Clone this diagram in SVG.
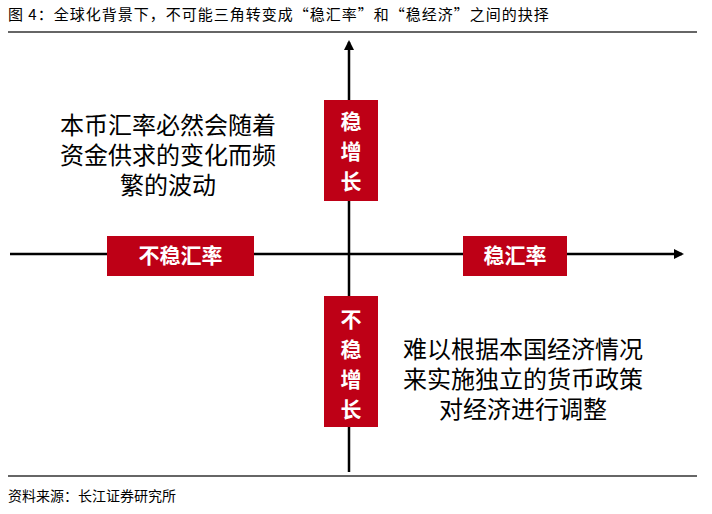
<svg xmlns="http://www.w3.org/2000/svg" width="712" height="514" viewBox="0 0 712 514">
<style>
.t{font-family:"Liberation Sans","Noto Sans CJK SC",sans-serif;}
.c{font-family:"Noto Sans CJK SC","Liberation Sans",sans-serif;}
.cap{font-size:15px;fill:#000;letter-spacing:1px;}
.src{font-size:14px;fill:#000;}
.body{font-size:24px;fill:#000;text-anchor:middle;}
.box{fill:#BE0016;}
.bt{font-size:21px;font-weight:bold;fill:#fff;text-anchor:middle;}
.ax{stroke:#000;stroke-width:2.5;fill:none;}
.rule{stroke:#666;stroke-width:2;}
</style>
<defs>
<marker id="ah" markerWidth="10" markerHeight="10" refX="8" refY="5" orient="auto" markerUnits="userSpaceOnUse">
<path d="M0,0 L10,5 L0,10 Z" fill="#000"/>
</marker>
</defs>
<text class="c cap" x="8" y="20">图 4：全球化背景下，不可能三角转变成“稳汇率”和“稳经济”之间的抉择</text>
<line class="rule" x1="8" y1="32" x2="697" y2="32"/>
<g id="connectors">
<line class="ax" x1="349" y1="472" x2="349" y2="42" marker-end="url(#ah)"/>
<line class="ax" x1="10" y1="254" x2="682" y2="254" marker-end="url(#ah)"/>
</g>
<g id="n-wenzengzhang">
<rect class="box" x="324" y="100" width="54" height="101"/>
<text class="t bt" x="351" y="129">稳</text>
<text class="t bt" x="351" y="159">增</text>
<text class="t bt" x="351" y="189">长</text>
</g>
<g id="n-buwenhuilv">
<rect class="box" x="107" y="236" width="147" height="40"/>
<text class="t bt" x="180.5" y="263">不稳汇率</text>
</g>
<g id="n-wenhuilv">
<rect class="box" x="463" y="236" width="104" height="40"/>
<text class="t bt" x="515" y="263">稳汇率</text>
</g>
<g id="n-buwenzengzhang">
<rect class="box" x="324" y="296" width="54" height="131"/>
<text class="t bt" x="351" y="327">不</text>
<text class="t bt" x="351" y="357">稳</text>
<text class="t bt" x="351" y="387">增</text>
<text class="t bt" x="351" y="417">长</text>
</g>
<g id="n-left-text">
<text class="t body" x="168" y="134">本币汇率必然会随着</text>
<text class="t body" x="168" y="164">资金供求的变化而频</text>
<text class="t body" x="168" y="194">繁的波动</text>
</g>
<g id="n-right-text">
<text class="t body" x="523" y="358">难以根据本国经济情况</text>
<text class="t body" x="523" y="388">来实施独立的货币政策</text>
<text class="t body" x="523" y="418">对经济进行调整</text>
</g>
<line class="rule" x1="8" y1="476" x2="697" y2="476"/>
<text class="c src" x="8" y="501">资料来源：长江证券研究所</text>
</svg>
